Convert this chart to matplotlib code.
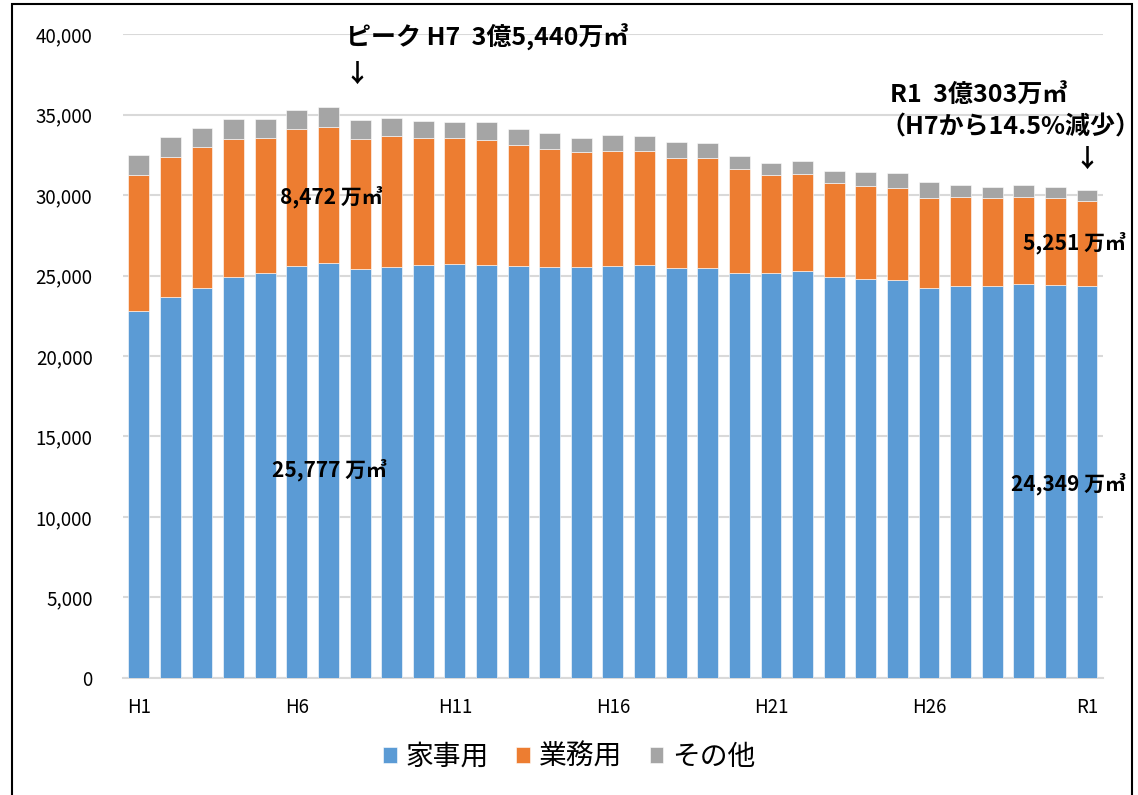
import numpy as np
import matplotlib
matplotlib.use("Agg")
import matplotlib.pyplot as plt
from matplotlib.patches import Rectangle

plt.rcParams['font.family'] = ['Noto Sans CJK JP', 'DejaVu Sans']

# years H1..H30, R1
years = ["H%d" % i for i in range(1, 31)] + ["R1"]

# 万㎥
home = [22800, 23650, 24240, 24890, 25170, 25610, 25777, 25420, 25550, 25630,
        25740, 25670, 25570, 25510, 25550, 25610, 25650, 25480, 25480, 25170,
        25130, 25260, 24930, 24760, 24700, 24240, 24370, 24330, 24450, 24380,
        24349]
business = [8440, 8730, 8720, 8570, 8350, 8470, 8472, 8080, 8130, 7890,
            7780, 7770, 7560, 7370, 7140, 7140, 7060, 6840, 6840, 6440,
            6110, 6060, 5790, 5780, 5750, 5550, 5490, 5460, 5450, 5430,
            5251]
other = [1230, 1220, 1220, 1240, 1180, 1200, 1191, 1160, 1100, 1050,
         1040, 1070, 990, 970, 870, 980, 930, 970, 890, 810,
         750, 770, 790, 890, 920, 1000, 740, 730, 700, 710,
         703]

labels = ["家事用", "業務用", "その他"]
colors = ["#5B9BD5", "#ED7D31", "#A5A5A5"]

fig = plt.figure(figsize=(11.38, 7.95), dpi=100)
ax = fig.add_axes([0.1081, 0.1472, 0.861, 0.81])

x = np.arange(len(years))
home = np.array(home)
business = np.array(business)
other = np.array(other)
w = 0.66
ax.bar(x, home, w, color=colors[0], label=labels[0], edgecolor="white", linewidth=0.4, zorder=3)
ax.bar(x, business, w, bottom=home, color=colors[1], label=labels[1], edgecolor="white", linewidth=0.4, zorder=3)
ax.bar(x, other, w, bottom=home + business, color=colors[2], label=labels[2], edgecolor="white", linewidth=0.4, zorder=3)

ax.set_xlim(-0.5, len(years) - 0.5)
ax.set_ylim(0, 40000)
ax.set_yticks(np.arange(0, 40001, 5000))
ax.set_yticklabels(["{:,}".format(v) for v in range(0, 40001, 5000)], fontsize=13.5)
ticks = [i for i in range(len(years)) if i % 5 == 0]
ax.set_xticks(ticks)
ax.set_xticklabels([years[i] for i in ticks], fontsize=13.5)
ax.tick_params(axis='both', length=0)
ax.tick_params(axis='x', pad=14)
ax.tick_params(axis='y', pad=22)
ax.grid(axis='y', color="#D9D9D9", linewidth=1.5, zorder=0)
for s in ["top", "right", "left"]:
    ax.spines[s].set_visible(False)
ax.spines["bottom"].set_color("#D9D9D9")
ax.spines["bottom"].set_linewidth(1.5)

# annotations
big = 18
small = 15
ax.text(6.57, 39800, "ピーク H7  3億5,440万㎥", fontsize=big, fontweight='bold', ha='left', va='center')
ax.text(6.9, 37450, "↓", fontsize=big, fontweight='bold', ha='center', va='center')
ax.text(6.1, 29880, "8,472 万㎥", fontsize=small, fontweight='bold', ha='center', va='center', zorder=5)
ax.text(6.03, 12920, "25,777 万㎥", fontsize=small, fontweight='bold', ha='center', va='center', zorder=5)
ax.text(23.78, 36150, "R1  3億303万㎥", fontsize=big, fontweight='bold', ha='left', va='center')
ax.text(27.57, 34220, "（H7から14.5%減少）", fontsize=big, fontweight='bold', ha='center', va='center')
ax.text(30, 32170, "↓", fontsize=big, fontweight='bold', ha='center', va='center')
ax.text(29.6, 27020, "5,251 万㎥", fontsize=small, fontweight='bold', ha='center', va='center', zorder=5)
ax.text(29.4, 12050, "24,349 万㎥", fontsize=small, fontweight='bold', ha='center', va='center', zorder=5)

fig.legend(loc='center', bbox_to_anchor=(0.5, 1 - 757 / 795), ncol=3, frameon=False,
           fontsize=20, handlelength=0.5, handleheight=0.5, handletextpad=0.3, columnspacing=1.0)

fig.add_artist(Rectangle((12 / 1138, -0.01), 1120 / 1138, 1.01 - 4 / 795, transform=fig.transFigure,
                         fill=False, edgecolor="black", linewidth=1.5, clip_on=False))

fig.savefig("out.png", dpi=100)
